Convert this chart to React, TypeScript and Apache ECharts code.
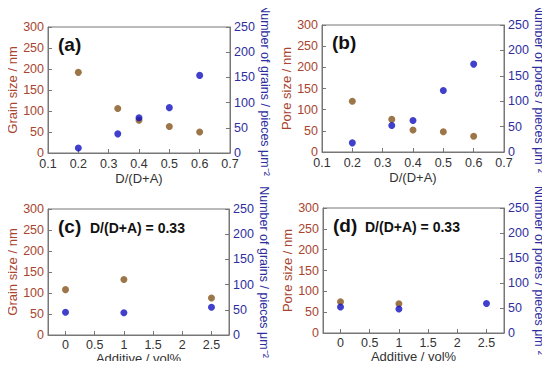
import React, { useEffect, useRef } from "react";
import * as echarts from "echarts";

const ratioX = [0.2, 0.33, 0.4, 0.5, 0.6];
const additiveX = [0, 1, 2.5];
const additiveTicks = [0, 0.5, 1, 1.5, 2, 2.5];

const grainSizeA = [192, 106, 78, 63, 50];
const grainCountA = [10, 38, 70, 90, 154];
const poreSizeB = [120, 77, 52, 48, 37];
const poreCountB = [18, 52, 62, 121, 173];
const grainSizeC = [108, 132, 88];
const grainCountC = [45, 44, 55];
const poreSizeD = [75, 70];
const poreCountD = [52, 48, 59];

const panelLabels = ["(a)", "(b)", "(c)", "(d)"];
const subtitle = "D/(D+A) = 0.33";

const BROWN = "#83541a";
const BLUE = "#1010c0";
const LEFT_TXT = "#a8452f";
const RIGHT_TXT = "#2e2e9e";
const AXIS = "#777777";
const FONT = "Liberation Sans";

const grids = [
  { left: 48, top: 27, width: 182, height: 126 },
  { left: 322, top: 25, width: 182, height: 127 },
  { left: 48, top: 209, width: 181, height: 126 },
  { left: 323, top: 208, width: 181, height: 125 },
];

export default function App() {
  const ref = useRef<HTMLDivElement>(null);
  useEffect(() => {
    if (!ref.current) return;
    const chart = echarts.init(ref.current, undefined, { renderer: "svg" });

    const xAxes: any[] = [];
    const yAxes: any[] = [];
    const series: any[] = [];
    const graphics: any[] = [];

    grids.forEach((g, i) => {
      const isRatio = i < 2;
      const isGrain = i % 2 === 0;
      const xAxis: any = {
        gridIndex: i,
        type: "value",
        min: isRatio ? 0.1 : -0.3,
        max: isRatio ? 0.7 : 2.8,
        name: isRatio ? "D/(D+A)" : "Additive / vol%",
        nameLocation: "middle",
        nameGap: isRatio ? 19 : 15,
        nameTextStyle: { color: "#333", fontSize: 13, fontFamily: FONT },
        axisLine: { show: true, onZero: false, lineStyle: { color: AXIS } },
        axisTick: { show: true, inside: true, length: 4, lineStyle: { color: AXIS } },
        splitLine: { show: false },
        axisLabel: {
          color: "#333",
          fontSize: 12.5,
          fontFamily: FONT,
          margin: isRatio ? 4 : 3,
        },
      };
      if (isRatio) {
        xAxis.interval = 0.1;
        xAxis.axisLabel.formatter = (v: number) => v.toFixed(1);
      } else {
        xAxis.axisTick.customValues = additiveTicks;
        xAxis.axisLabel.customValues = additiveTicks;
        xAxis.axisLabel.formatter = (v: number) => String(v);
      }
      xAxes.push(xAxis);
      yAxes.push({
        gridIndex: i,
        type: "value",
        position: "left",
        min: 0,
        max: 300,
        interval: 50,
        name: isGrain ? "Grain size / nm" : "Pore size / nm",
        nameLocation: "middle",
        nameRotate: 90,
        nameGap: 29,
        nameTextStyle: { color: LEFT_TXT, fontSize: 13, fontFamily: FONT },
        axisLine: { show: true, onZero: false, lineStyle: { color: AXIS } },
        axisTick: { show: true, inside: true, length: 4, lineStyle: { color: AXIS } },
        splitLine: { show: false },
        axisLabel: { color: LEFT_TXT, fontSize: 12.5, fontFamily: FONT, margin: 4 },
      });
      yAxes.push({
        gridIndex: i,
        type: "value",
        position: "right",
        min: 0,
        max: 250,
        interval: 50,
        name: isGrain ? "Number of grains / pieces μm⁻²" : "Number of pores / pieces μm⁻²",
        nameLocation: "middle",
        nameRotate: -90,
        nameGap: 26,
        nameTextStyle: { color: RIGHT_TXT, fontSize: 12.5, fontFamily: FONT },
        axisLine: { show: true, onZero: false, lineStyle: { color: AXIS } },
        axisTick: { show: true, inside: true, length: 4, lineStyle: { color: AXIS } },
        splitLine: { show: false },
        axisLabel: { color: RIGHT_TXT, fontSize: 12.5, fontFamily: FONT, margin: 4 },
      });

      graphics.push({
        type: "text",
        left: g.left + 10,
        top: g.top + 8,
        style: {
          text: panelLabels[i],
          fill: "#111",
          font: `bold 19px ${FONT}`,
        },
      });
      if (!isRatio) {
        graphics.push({
          type: "text",
          left: g.left + 42,
          top: g.top + 12,
          style: {
            text: subtitle,
            fill: "#111",
            font: `bold 14px ${FONT}`,
          },
        });
      }
    });

    const sizes = [grainSizeA, poreSizeB, grainSizeC, poreSizeD];
    const counts = [grainCountA, poreCountB, grainCountC, poreCountD];
    sizes.forEach((arr, i) => {
      const xs = i < 2 ? ratioX : additiveX;
      series.push({
        type: "scatter",
        xAxisIndex: i,
        yAxisIndex: i * 2,
        symbolSize: 7,
        itemStyle: { color: BROWN },
        data: arr.map((v, k) => [xs[k], v]),
      });
      series.push({
        type: "scatter",
        xAxisIndex: i,
        yAxisIndex: i * 2 + 1,
        symbolSize: 7,
        itemStyle: { color: BLUE },
        data: counts[i].map((v, k) => [xs[k], v]),
      });
    });

    chart.setOption({
      animation: false,
      backgroundColor: "#ffffff",
      grid: grids.map((g) => ({
        ...g,
        show: true,
        borderColor: AXIS,
        borderWidth: 1,
        backgroundColor: "transparent",
      })),
      xAxis: xAxes,
      yAxis: yAxes,
      series,
      graphic: graphics,
    });
    return () => chart.dispose();
  }, []);
  return <div ref={ref} style={{ width: 550, height: 369, margin: -8 }} />;
}
